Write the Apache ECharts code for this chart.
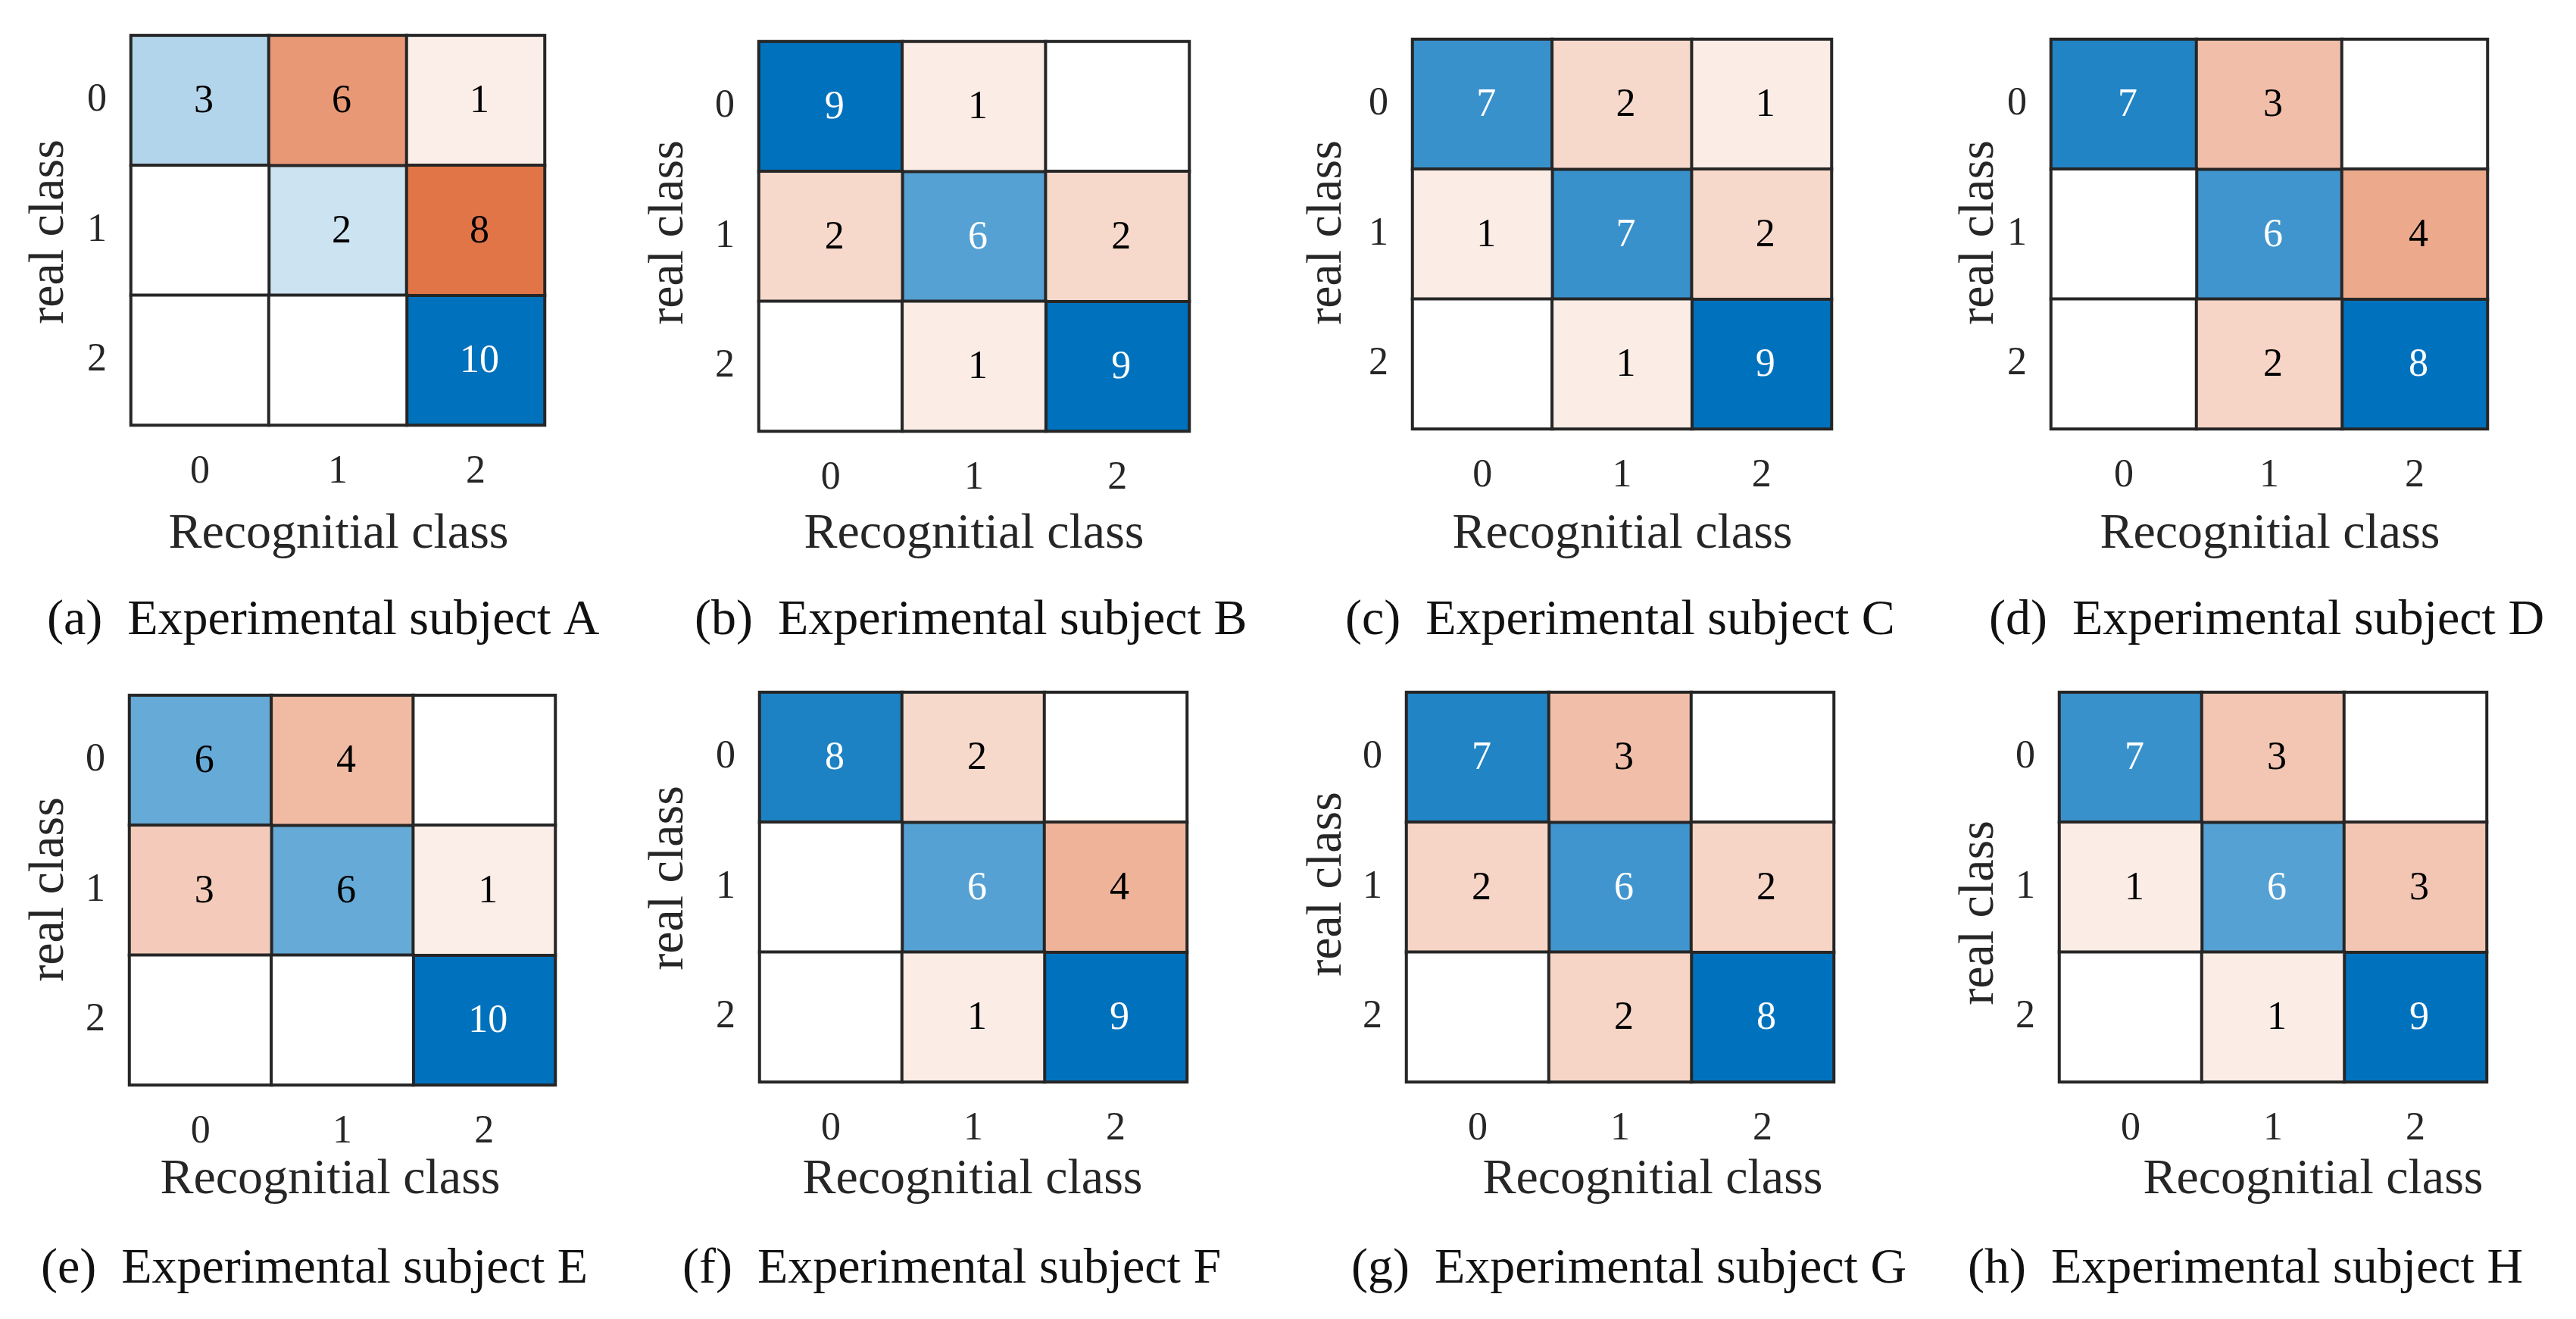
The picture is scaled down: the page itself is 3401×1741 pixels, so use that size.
<!DOCTYPE html>
<html>
<head>
<meta charset="utf-8">
<script src="https://cdn.jsdelivr.net/npm/echarts@6/dist/echarts.min.js"></script>
<style>
html,body{margin:0;padding:0;background:#fff;}
#main{width:3401px;height:1741px;}
</style>
</head>
<body>
<div id="main"></div>
<script>
// ---- data ----
const classes = ['0', '1', '2'];
const subjectA = [[3, 6, 1], [0, 2, 8], [0, 0, 10]];
const subjectB = [[9, 1, 0], [2, 6, 2], [0, 1, 9]];
const subjectC = [[7, 2, 1], [1, 7, 2], [0, 1, 9]];
const subjectD = [[7, 3, 0], [0, 6, 4], [0, 2, 8]];
const subjectE = [[6, 4, 0], [3, 6, 1], [0, 0, 10]];
const subjectF = [[8, 2, 0], [0, 6, 4], [0, 1, 9]];
const subjectG = [[7, 3, 0], [2, 6, 2], [0, 2, 8]];
const subjectH = [[7, 3, 0], [1, 6, 3], [0, 1, 9]];
const captions = ['(a)  Experimental subject A', '(b)  Experimental subject B',
  '(c)  Experimental subject C', '(d)  Experimental subject D',
  '(e)  Experimental subject E', '(f)  Experimental subject F',
  '(g)  Experimental subject G', '(h)  Experimental subject H'];
const xTitle = 'Recognitial class';
const yTitle = 'real class';

// ---- layout (pixels) ----
const matrices = [subjectA, subjectB, subjectC, subjectD, subjectE, subjectF, subjectG, subjectH];
const grids = [
  {left: 173, top: 47, width: 546, height: 514},
  {left: 1002, top: 55, width: 568, height: 514},
  {left: 1865, top: 52, width: 553, height: 514},
  {left: 2708, top: 52, width: 576, height: 514},
  {left: 171, top: 918, width: 562, height: 514},
  {left: 1003, top: 914, width: 564, height: 514},
  {left: 1857, top: 914, width: 564, height: 514},
  {left: 2719, top: 914, width: 564, height: 514}
];
const yTitlePos = [[66, 306], [884, 307], [1753, 307], [2614, 307], [66, 1174], [884, 1159], [1753, 1167], [2614, 1205]];
const xTitlePos = [[447, 706], [1286, 706], [2142, 706], [2997, 706], [436, 1558], [1284, 1558], [2182, 1558], [3054, 1558]];
const capPos = [[62, 820], [917, 820], [1776, 820], [2626, 820], [54, 1676], [901, 1676], [1784, 1676], [2598, 1676]];

const FONT = '"Liberation Serif", "Times New Roman", serif';
const BLUE = '#0072BD', ORANGE = '#D95319';

const option = {
  backgroundColor: '#ffffff',
  animation: false,
  grid: [], xAxis: [], yAxis: [], series: [], visualMap: [], graphic: []
};

matrices.forEach((m, i) => {
  let maxV = 0;
  m.forEach(r => r.forEach(v => { if (v > maxV) maxV = v; }));
  option.grid.push(Object.assign({containLabel: false}, grids[i]));
  option.xAxis.push({
    type: 'category', gridIndex: i, data: classes, position: 'bottom',
    axisLine: {show: false}, axisTick: {show: false}, splitLine: {show: false},
    axisLabel: {margin: 36, fontSize: 52, fontFamily: FONT, color: '#262626'}
  });
  option.yAxis.push({
    type: 'category', gridIndex: i, data: classes, inverse: true,
    axisLine: {show: false}, axisTick: {show: false}, splitLine: {show: false},
    axisLabel: {margin: 32, fontSize: 52, fontFamily: FONT, color: '#262626'}
  });
  const diag = [], off = [];
  m.forEach((row, r) => row.forEach((v, c) => {
    (r === c ? diag : off).push([c, r, v]);
  }));
  const mk = (data, isDiag) => ({
    type: 'heatmap', xAxisIndex: i, yAxisIndex: i, data: data,
    itemStyle: {borderColor: '#262626', borderWidth: 4},
    emphasis: {disabled: true},
    label: {
      show: true, offset: [5, 2],
      formatter: p => {
        const v = p.value[2];
        if (!v) return '';
        const white = isDiag && v / maxV > 0.65;
        return (white ? '{w|' : '{k|') + v + '}';
      },
      rich: {
        w: {color: '#ffffff', fontSize: 52, fontFamily: FONT},
        k: {color: '#000000', fontSize: 52, fontFamily: FONT}
      }
    }
  });
  option.series.push(mk(diag, true));
  option.series.push(mk(off, false));
  option.visualMap.push({
    show: false, type: 'continuous', seriesIndex: 2 * i, dimension: 2,
    min: 0, max: maxV, inRange: {color: ['#ffffff', BLUE]}
  });
  option.visualMap.push({
    show: false, type: 'continuous', seriesIndex: 2 * i + 1, dimension: 2,
    min: 0, max: maxV, inRange: {color: ['#ffffff', ORANGE]}
  });
  option.graphic.push({
    type: 'text', x: yTitlePos[i][0], y: yTitlePos[i][1], rotation: Math.PI / 2,
    style: {text: yTitle, font: '66px ' + FONT, fill: '#262626', align: 'center', verticalAlign: 'middle'}
  });
  option.graphic.push({
    type: 'text', x: xTitlePos[i][0], y: xTitlePos[i][1],
    style: {text: xTitle, font: '66px ' + FONT, fill: '#262626', align: 'center', verticalAlign: 'middle'}
  });
  option.graphic.push({
    type: 'text', x: capPos[i][0], y: capPos[i][1],
    style: {text: captions[i], font: '66px ' + FONT, fill: '#111111', align: 'left', verticalAlign: 'middle'}
  });
});

const chart = echarts.init(document.getElementById('main'), null, {renderer: 'canvas'});
chart.setOption(option);
</script>
</body>
</html>
